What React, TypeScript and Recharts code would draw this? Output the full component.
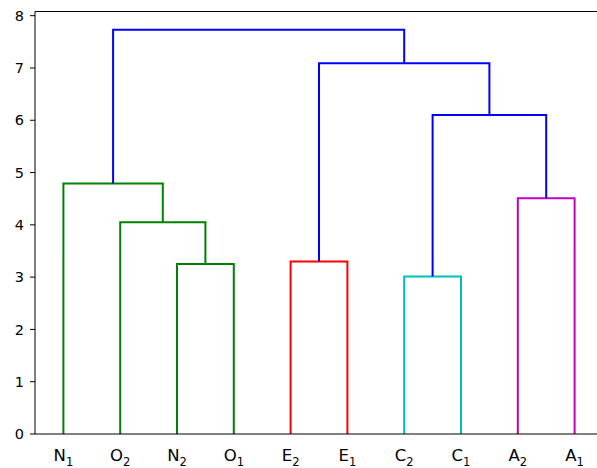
import { Line, LineChart, ReferenceLine, XAxis, YAxis } from "recharts";

// Hierarchical clustering dendrogram (scipy-style): ten leaves, nine merges.
// Leaves sit at x = 5, 15, ..., 95 on a 0..100 axis; each merge is drawn as a
// bracket line from its two children up to the merge height.

const LEAF_LETTERS = ["N", "O", "N", "O", "E", "E", "C", "C", "A", "A"];
const LEAF_SUBS = ["1", "2", "2", "1", "2", "1", "2", "1", "2", "1"];

// merge i creates cluster id 10 + i (linkage-matrix convention)
const MERGE_LEFT = [2, 1, 0, 4, 6, 8, 14, 13, 12];
const MERGE_RIGHT = [3, 10, 11, 5, 7, 9, 15, 16, 17];
const MERGE_HEIGHT = [3.25, 4.05, 4.79, 3.3, 3.01, 4.51, 6.1, 7.09, 7.73];

const Y_TICKS = [0, 1, 2, 3, 4, 5, 6, 7, 8];

const LINK_COLORS = [
  "#008000",
  "#008000",
  "#008000",
  "#ff0000",
  "#00bfbf",
  "#bf00bf",
  "#0000ff",
  "#0000ff",
  "#0000ff",
];

const Y_MAX = 8.08;
const FONT = "'DejaVu Sans', sans-serif";

const leafTicks = LEAF_LETTERS.map((_, i) => 5 + 10 * i);

// walk the merges to get bracket coordinates
const nodeX: number[] = [...leafTicks];
const nodeY: number[] = LEAF_LETTERS.map(() => 0);
const links = MERGE_HEIGHT.map((h, i) => {
  const l = MERGE_LEFT[i];
  const r = MERGE_RIGHT[i];
  const pts = [
    { x: nodeX[l], y: nodeY[l] },
    { x: nodeX[l], y: h },
    { x: nodeX[r], y: h },
    { x: nodeX[r], y: nodeY[r] },
  ];
  nodeX.push((nodeX[l] + nodeX[r]) / 2);
  nodeY.push(h);
  return { pts, color: LINK_COLORS[i] };
});

function LeafTick(props: any) {
  const { x, y, payload } = props;
  const idx = leafTicks.indexOf(payload.value);
  if (idx < 0) return null;
  return (
    <text x={x} y={y + 19} textAnchor="middle" fontFamily={FONT} fontSize={16.5} fill="#000">
      <tspan>{LEAF_LETTERS[idx]}</tspan>
      <tspan dy={4.5} fontSize={11.5}>
        {LEAF_SUBS[idx]}
      </tspan>
    </text>
  );
}

export default function App() {
  return (
    <div
      style={{
        position: "absolute",
        left: 0,
        top: 0,
        width: 597,
        height: 468,
        overflow: "hidden",
        background: "#fff",
      }}
    >
      <LineChart width={608} height={468} margin={{ top: 11.5, right: 5, bottom: 0, left: 0 }}>
        <XAxis
          type="number"
          dataKey="x"
          domain={[0, 100]}
          ticks={leafTicks}
          interval={0}
          tickLine={false}
          tick={<LeafTick />}
          height={34}
          stroke="#000"
          allowDataOverflow
        />
        <YAxis
          type="number"
          dataKey="y"
          domain={[0, Y_MAX]}
          ticks={Y_TICKS}
          interval={0}
          width={35}
          tickSize={5}
          tickMargin={6}
          stroke="#000"
          tick={{ fill: "#000", fontSize: 14.5, fontFamily: FONT }}
          allowDataOverflow
        />
        <ReferenceLine y={Y_MAX} stroke="#000" />
        <ReferenceLine x={100} stroke="#000" />
        {links.map((link, i) => (
          <Line
            key={i}
            data={link.pts}
            dataKey="y"
            type="linear"
            stroke={link.color}
            strokeWidth={2}
            dot={false}
            activeDot={false}
            isAnimationActive={false}
          />
        ))}
      </LineChart>
    </div>
  );
}
